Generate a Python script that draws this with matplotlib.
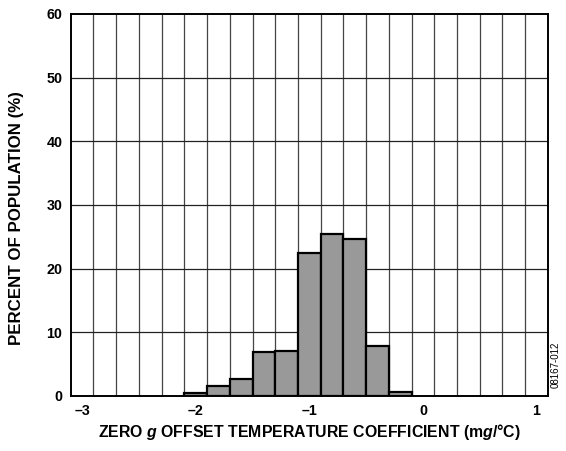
"""Zero g offset temperature coefficient histogram."""
import matplotlib
matplotlib.use("Agg")
import matplotlib.pyplot as plt
import numpy as np

plt.rcParams['font.family'] = ['Liberation Sans', 'DejaVu Sans']
plt.rcParams['font.weight'] = 'bold'
plt.rcParams['mathtext.fontset'] = 'custom'
plt.rcParams['mathtext.it'] = 'Liberation Sans:bold:italic'
plt.rcParams['mathtext.rm'] = 'Liberation Sans:bold'

# bin centres (mg/°C) and percent of population
bin_centers = [-2.0, -1.8, -1.6, -1.4, -1.2, -1.0, -0.8, -0.6, -0.4, -0.2]
percent = [0.4, 1.5, 2.7, 6.9, 7.0, 22.5, 25.4, 24.6, 7.9, 0.6]
bin_width = 0.2

x_ticks = [-3, -2, -1, 0, 1]
x_tick_labels = ['\u20133', '\u20132', '\u20131', '0', '1']
y_ticks = [0, 10, 20, 30, 40, 50, 60]

fig = plt.figure(figsize=(5.66, 4.51), dpi=100)
ax = fig.add_axes([0.125, 0.122, 0.843, 0.847])

# grid: vertical every 0.2 on odd tenths, horizontal every 10
for gx in np.arange(-2.9, 1.0, 0.2):
    ax.axvline(gx, color='#444444', lw=0.9, zorder=0)
for gy in y_ticks[1:-1]:
    ax.axhline(gy, color='#222222', lw=0.9, zorder=0)

ax.bar(bin_centers, percent, width=bin_width, color='#999999',
       edgecolor='black', linewidth=1.6, zorder=2)

ax.set_xlim(-3.1, 1.1)
ax.set_ylim(0, 60)
ax.set_xticks(x_ticks)
ax.set_xticklabels(x_tick_labels)
ax.set_yticks(y_ticks)
ax.tick_params(length=0, labelsize=10.3, pad=6)
for s in ax.spines.values():
    s.set_linewidth(1.4)

ax.set_xlabel(r'ZERO $g$ OFFSET TEMPERATURE COEFFICIENT (m$g$/°C)',
              fontsize=11.4, fontweight='bold', labelpad=3)
ax.set_ylabel('PERCENT OF POPULATION (%)', fontsize=12.2, fontweight='bold')
ax.yaxis.set_label_coords(-0.098, 0.465)

fig.text(0.982, 0.14, '08167-012', rotation=90, fontsize=7,
         fontweight='normal', ha='center', va='bottom')

fig.savefig('out.png', dpi=100)
